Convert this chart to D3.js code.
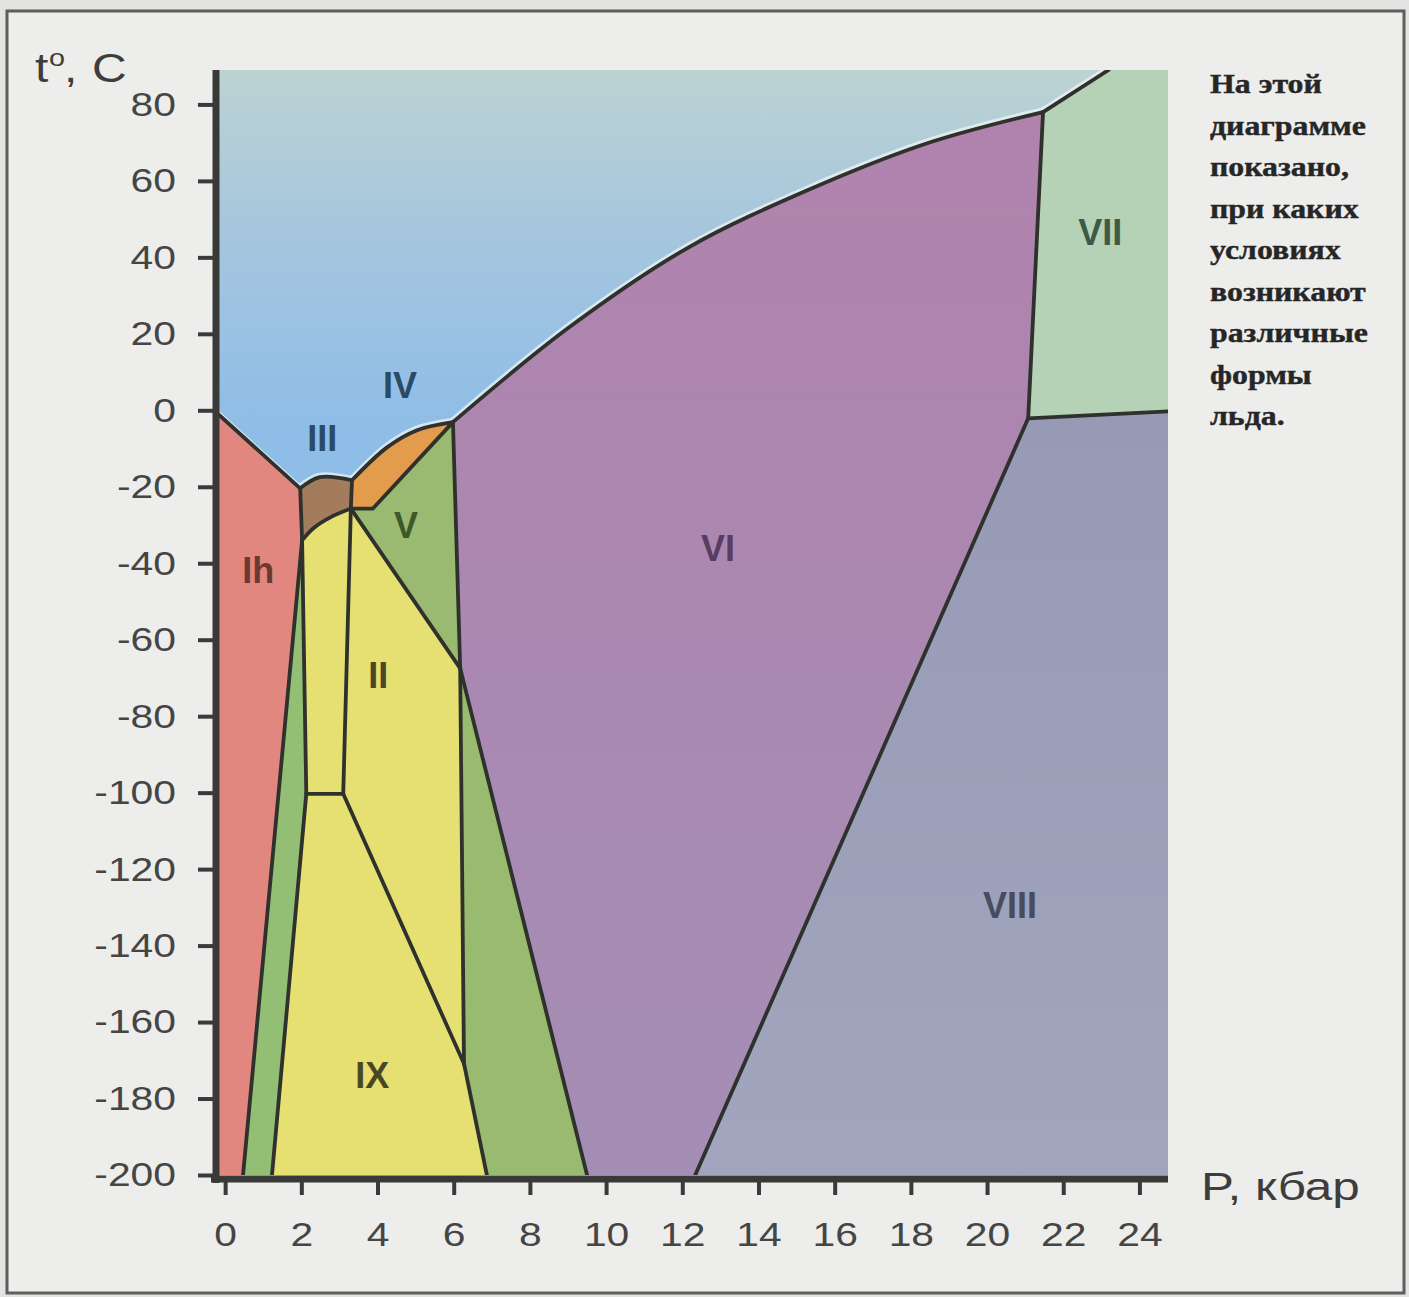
<!DOCTYPE html>
<html>
<head>
<meta charset="utf-8">
<script src="https://cdn.jsdelivr.net/npm/d3@7"></script>
<style>
  html, body { margin: 0; padding: 0; background: #e3e3e1; }
  svg { display: block; }
</style>
</head>
<body>
<svg id="chart" width="1409" height="1297"></svg>
<script>
// Phase diagram of water ice: pressure P (kbar) against temperature t (°C).

// Axis ranges and ticks
const pressureDomain = [-0.24, 24.75];
const tempDomain = [-200, 89];
const pressureTicks = [0, 2, 4, 6, 8, 10, 12, 14, 16, 18, 20, 22, 24];
const tempTicks = [80, 60, 40, 20, 0, -20, -40, -60, -80, -100, -120, -140, -160, -180, -200];

// Phase boundaries, each a list of [P, t] points
const meltIh   = [[-0.24, -0.5], [1.97, -20.4]];
const meltIII  = [[1.97, -20.4], [2.49, -17.5], [3.33, -18.3]];
const meltIV   = [[3.33, -18.3], [4.25, -9.7], [5.04, -5.2], [5.98, -3.1]];
const meltVI   = [[5.98, -3.1], [9.03, 21.7], [12.18, 42.7], [15.30, 57.6], [18.45, 69.9], [21.47, 78.0]];
const meltVII  = [[21.47, 78.0], [23.19, 89.0]];
const lineVI_VII   = [[21.47, 78.0], [21.31, 45.3], [21.08, -2.1]];
const lineVII_VIII = [[21.08, -2.1], [24.75, -0.3]];
const lineVI_VIII  = [[21.08, -2.1], [12.34, -200]];
const lineIh_III   = [[1.97, -20.4], [2.02, -34.0]];
const lineIII_IV   = [[3.33, -18.3], [3.30, -25.7]];
const lineII_III   = [[3.30, -25.7], [2.76, -28.0], [2.31, -30.9], [2.02, -34.0]];
const lineIV_V     = [[3.30, -25.7], [3.88, -25.7], [5.98, -3.1]];
const lineV_VI     = [[5.98, -3.1], [6.17, -67.5]];
const lineII_V     = [[3.30, -25.7], [6.17, -67.5]];
const lineII_low   = [[6.17, -67.5], [6.27, -170.9]];
const lineIX_low   = [[6.27, -170.9], [6.87, -200]];
const lineVI_low   = [[6.17, -67.5], [9.50, -200]];
const lineIIright  = [[3.30, -25.7], [3.10, -100.3]];
const lineIIleft   = [[2.02, -34.0], [2.13, -100.3]];
const lineIIbottom = [[2.13, -100.3], [3.10, -100.3]];
const lineII_IX    = [[3.10, -100.3], [6.27, -170.9]];
const lineIXleft   = [[2.13, -100.3], [1.23, -200]];
const lineIh_low   = [[2.02, -34.0], [0.47, -200]];

// Phase names and the [P, t] point each name is centred on
const phaseNames  = ["IV", "III", "V", "Ih", "II", "VI", "VII", "VIII", "IX"];
const phaseAnchor = [[4.59, 6.5], [2.55, -7.3], [4.75, -30.1], [0.87, -41.9], [4.02, -69.4],
                     [12.94, -36.1], [22.97, 46.6], [20.60, -129.6], [3.86, -174.1]];

const noteLines = ["На этой", "диаграмме", "показано,", "при каких", "условиях",
                   "возникают", "различные", "формы", "льда."];

// ---------------------------------------------------------------
const svg = d3.select("#chart");
const W = 1409, H = 1297;

const x = d3.scaleLinear().domain(pressureDomain).range([216, 1168]);
const y = d3.scaleLinear().domain(tempDomain).range([1175, 70]);

// page and frame
svg.append("rect").attr("width", W).attr("height", H).attr("fill", "#e3e3e1");
svg.append("rect").attr("x", 7).attr("y", 11).attr("width", 1397).attr("height", 1282)
  .attr("fill", "#ededeb").attr("stroke", "#5e5e5e").attr("stroke-width", 3);

const defs = svg.append("defs");
function vGrad(id, stops, y1, y2) {
  const g = defs.append("linearGradient").attr("id", id)
    .attr("gradientUnits", "userSpaceOnUse").attr("x1", 0).attr("x2", 0).attr("y1", y1).attr("y2", y2);
  stops.forEach(s => g.append("stop").attr("offset", s[0]).attr("stop-color", s[1]));
}
vGrad("gLiquid", [[0, "#bcd3d3"], [0.45, "#a6c6de"], [1, "#8ebde7"]], 70, 430);
vGrad("gVI", [[0, "#b083ad"], [1, "#a48eb5"]], 120, 1175);
vGrad("gVIII", [[0, "#969ab5"], [1, "#a1a5bd"]], 420, 1175);

defs.append("clipPath").attr("id", "plotClip").append("rect")
  .attr("x", 216).attr("y", 70).attr("width", 952).attr("height", 1105);

const straight = d3.line().x(d => x(d[0])).y(d => y(d[1]));
const smooth = d3.line().x(d => x(d[0])).y(d => y(d[1])).curve(d3.curveCatmullRom.alpha(0.5));
const curvedSet = new Set([meltIII, meltIV, meltVI, lineII_III]);
function seg(pts, rev) {
  const p = rev ? pts.slice().reverse() : pts;
  return (curvedSet.has(pts) ? smooth : straight)(p);
}
// closed outline from consecutive boundary pieces: [points, reversed?]
function region(parts) {
  return parts.map((p, i) => {
    const s = seg(p[0], p[1]);
    return i ? s.replace(/^M/, "L") : s;
  }).join("") + "Z";
}

const tTop = tempDomain[1], tBot = tempDomain[0], pLeft = pressureDomain[0], pRight = pressureDomain[1];

const regions = [
  { fill: "url(#gLiquid)", d: region([[[[pLeft, tTop], [23.19, tTop]], false], [meltVII, true], [meltVI, true],
      [meltIV, true], [meltIII, true], [meltIh, true]]) },
  { fill: "#e2877f", d: region([[meltIh, false], [lineIh_III, false], [lineIh_low, false],
      [[[0.47, tBot], [pLeft, tBot]], false]]) },
  { fill: "#a27c5c", d: region([[meltIII, false], [lineIII_IV, false], [lineII_III, false], [lineIh_III, true]]) },
  { fill: "#e39b4c", d: region([[meltIV, false], [lineIV_V, true], [lineIII_IV, true]]) },
  { fill: "#99ba70", d: region([[lineIV_V, false], [lineV_VI, false], [lineII_V, true]]) },
  { fill: "url(#gVI)", d: region([[meltVI, false], [lineVI_VII, false], [lineVI_VIII, false],
      [[[12.34, tBot], [9.50, tBot]], false], [lineVI_low, true], [lineV_VI, true]]) },
  { fill: "#b5d2b6", d: region([[[[23.19, tTop], [pRight, tTop], [pRight, -0.3]], false], [lineVII_VIII, true],
      [lineVI_VII, true], [meltVII, false]]) },
  { fill: "url(#gVIII)", d: region([[lineVII_VIII, false], [[[pRight, -0.3], [pRight, tBot], [12.34, tBot]], false],
      [lineVI_VIII, true]]) },
  { fill: "#e6df72", d: region([[lineII_V, false], [lineII_low, false], [lineII_IX, true], [lineIIbottom, true],
      [lineIIleft, true], [lineII_III, true]]) },
  { fill: "#e6df72", d: region([[lineIIbottom, false], [lineII_IX, false], [lineIX_low, false],
      [[[6.87, tBot], [1.23, tBot]], false], [lineIXleft, true]]) },
  { fill: "#98bb6f", d: region([[lineVI_low, false], [[[9.50, tBot], [6.87, tBot]], false], [lineIX_low, true],
      [lineII_low, true]]) },
  { fill: "#93bf75", d: region([[lineIIleft, false], [lineIXleft, false], [[[1.23, tBot], [0.47, tBot]], false],
      [lineIh_low, true]]) }
];

const plot = svg.append("g").attr("clip-path", "url(#plotClip)");
plot.selectAll("path.phase").data(regions).join("path")
  .attr("class", "phase").attr("d", d => d.d).attr("fill", d => d.fill)
  .attr("stroke", d => d.fill).attr("stroke-width", 0.8);

// pale rim along the melting curve, on the liquid side
const meltAll = [meltIh, meltIII, meltIV, meltVI, meltVII];
plot.selectAll("path.rim").data(meltAll).join("path").attr("class", "rim")
  .attr("d", d => seg(d, false)).attr("fill", "none")
  .attr("stroke", "#f4f7f6").attr("stroke-opacity", 0.7).attr("stroke-width", 3)
  .attr("transform", "translate(-1,-3)");

const boundaries = [meltIh, meltIII, meltIV, meltVI, meltVII, lineVI_VII, lineVII_VIII, lineVI_VIII,
  lineIh_III, lineIII_IV, lineII_III, lineIV_V, lineV_VI, lineII_V, lineII_low, lineIX_low, lineVI_low,
  lineIIright, lineIIleft, lineIIbottom, lineII_IX, lineIXleft, lineIh_low];
plot.selectAll("path.edge").data(boundaries).join("path").attr("class", "edge")
  .attr("d", d => seg(d, false)).attr("fill", "none")
  .attr("stroke", "#2f312d").attr("stroke-width", 3.8)
  .attr("stroke-linejoin", "round").attr("stroke-linecap", "round");

// phase names
const nameColor = { "IV": "#2b4a63", "III": "#2b4a63", "V": "#3d5829", "Ih": "#6a3a31", "II": "#4a4822",
  "VI": "#583c61", "VII": "#3d5a46", "VIII": "#474c5f", "IX": "#4a4822" };
svg.append("g").selectAll("text").data(phaseNames).join("text")
  .attr("x", (d, i) => x(phaseAnchor[i][0])).attr("y", (d, i) => y(phaseAnchor[i][1]))
  .attr("text-anchor", "middle").attr("dominant-baseline", "central")
  .attr("font-family", "'Liberation Sans', Arial, sans-serif").attr("font-weight", "bold")
  .attr("font-size", 36).attr("fill", d => nameColor[d]).text(d => d);

// axes (labels printed with a plain hyphen for negatives)
const tickFont = "'Liberation Sans', Arial, sans-serif";
const stretch = 1.2;
const plainNum = d => String(d);
const yAxis = svg.append("g").attr("transform", "translate(216,0)")
  .call(d3.axisLeft(y).tickValues(tempTicks).tickSize(18).tickPadding(22).tickFormat(plainNum));
yAxis.select(".domain").remove();
yAxis.selectAll(".tick line").attr("stroke", "#3a3a3a").attr("stroke-width", 4);
yAxis.selectAll(".tick text").attr("font-family", tickFont).attr("font-size", 34).attr("fill", "#454545")
  .attr("x", 0).attr("transform", `translate(-40,0) scale(${stretch},1)`);

const xAxis = svg.append("g").attr("transform", "translate(0,1179)")
  .call(d3.axisBottom(x).tickValues(pressureTicks).tickSize(16).tickPadding(27).tickFormat(plainNum));
xAxis.select(".domain").remove();
xAxis.selectAll(".tick line").attr("stroke", "#3a3a3a").attr("stroke-width", 4);
xAxis.selectAll(".tick text").attr("font-family", tickFont).attr("font-size", 34).attr("fill", "#454545")
  .attr("x", 0).attr("transform", `scale(${stretch},1)`);

// heavy axis lines
svg.append("line").attr("x1", 216).attr("x2", 216).attr("y1", 70).attr("y2", 1183)
  .attr("stroke", "#393a38").attr("stroke-width", 7);
svg.append("line").attr("x1", 211).attr("x2", 1168).attr("y1", 1179).attr("y2", 1179)
  .attr("stroke", "#393a38").attr("stroke-width", 7);

// axis titles
const titleG = svg.append("g").attr("font-family", tickFont).attr("fill", "#3d3d3d");
titleG.append("text").attr("transform", `translate(35,82) scale(${stretch},1)`).attr("font-size", 40).text("t");
titleG.append("text").attr("transform", `translate(49,66) scale(${stretch},1)`).attr("font-size", 24).text("o");
titleG.append("text").attr("transform", `translate(64,82) scale(${stretch},1)`).attr("font-size", 40).text(",");
titleG.append("text").attr("transform", `translate(92,82) scale(${stretch},1)`).attr("font-size", 40).text("C");
titleG.append("text").attr("transform", `translate(1201,1200) scale(1.3,1)`).attr("font-size", 38).text("P, кбар");

// side note
const note = svg.append("g");
const noteText = note.selectAll("text").data(noteLines).join("text")
  .attr("font-family", "'Liberation Serif', 'Times New Roman', serif").attr("font-weight", "bold")
  .attr("font-size", 28).attr("fill", "#262626").attr("stroke", "#262626").attr("stroke-width", 0.4)
  .text(d => d);
const widest = d3.max(noteText.nodes(), n => n.getComputedTextLength());
const k = 158 / widest;
noteText.attr("transform", (d, i) => `translate(1210,${93 + i * 41.5}) scale(${k},1)`);
</script>
</body>
</html>
